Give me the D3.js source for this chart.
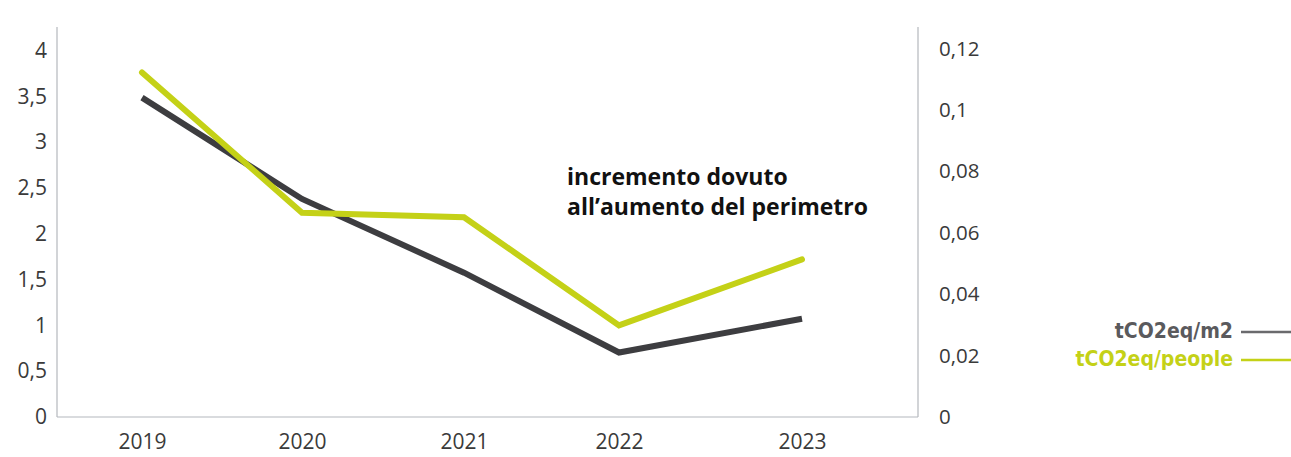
<!DOCTYPE html>
<html>
<head>
<meta charset="utf-8">
<script src="https://cdn.jsdelivr.net/npm/d3@7"></script>
<style>
  html, body { margin: 0; padding: 0; background: #fff; }
  svg { display: block; }
  .tick text { font-family: "Open Sans", sans-serif; }
</style>
</head>
<body>
<svg id="chart" width="1291" height="457"></svg>
<script>
// ---- data ----
const years = [2019, 2020, 2021, 2022, 2023];
const perM2 = [0.104, 0.071, 0.047, 0.021, 0.032];      // right axis, dark line
const perPeople = [3.76, 2.23, 2.18, 1.00, 1.72];       // left axis, green line
const leftTicks = [0, 0.5, 1, 1.5, 2, 2.5, 3, 3.5, 4];
const rightTicks = [0, 0.02, 0.04, 0.06, 0.08, 0.1, 0.12];
const seriesNames = ["tCO2eq/m2", "tCO2eq/people"];
const annotation = ["incremento dovuto", "all\u2019aumento del perimetro"];

// ---- layout ----
const W = 1291, H = 457;
const plotLeft = 57, plotRight = 918, plotTop = 27, plotBottom = 417;
const xStops = [142, 302, 464, 619, 802];
const darkColor = "#3d3d40", greenColor = "#c4d117", axisColor = "#b4b8bd", textColor = "#3a3a3a";

const svg = d3.select("#chart");
const it = d3.formatLocale({decimal: ",", thousands: ".", grouping: [3], currency: ["", "\u20ac"]});
const fmt = it.format("~g");

const x = d3.scaleLinear().domain(years).range(xStops);
const yL = d3.scaleLinear().domain([0, 4]).range([plotBottom, 50.5]);
const yR = d3.scaleLinear().domain([0, 0.12]).range([plotBottom, 48.5]);

// axis frame lines
svg.append("line").attr("x1", plotLeft).attr("x2", plotLeft).attr("y1", plotTop).attr("y2", plotBottom)
  .attr("stroke", axisColor).attr("stroke-width", 1.2);
svg.append("line").attr("x1", plotRight).attr("x2", plotRight).attr("y1", plotTop).attr("y2", plotBottom)
  .attr("stroke", axisColor).attr("stroke-width", 1.2);
svg.append("line").attr("x1", plotLeft).attr("x2", plotRight).attr("y1", plotBottom).attr("y2", plotBottom)
  .attr("stroke", axisColor).attr("stroke-width", 1.2);

// left axis
const gL = svg.append("g").attr("transform", `translate(${plotLeft},0)`)
  .call(d3.axisLeft(yL).tickValues(leftTicks).tickFormat(fmt).tickSize(0).tickPadding(10));
gL.select(".domain").remove();
gL.selectAll("text").attr("font-size", 21).attr("fill", textColor);

// right axis
const gR = svg.append("g").attr("transform", `translate(${plotRight},0)`)
  .call(d3.axisRight(yR).tickValues(rightTicks).tickFormat(fmt).tickSize(0).tickPadding(21));
gR.select(".domain").remove();
gR.selectAll("text").attr("font-size", 20.5).attr("fill", textColor);

// bottom axis
const gB = svg.append("g").attr("transform", `translate(0,${plotBottom})`)
  .call(d3.axisBottom(x).tickValues(years).tickFormat(d3.format("d")).tickSize(0).tickPadding(17));
gB.select(".domain").remove();
gB.selectAll("text").attr("font-size", 21).attr("fill", textColor);

// lines
const lineL = d3.line().x((d, i) => x(years[i])).y(d => yL(d));
const lineR = d3.line().x((d, i) => x(years[i])).y(d => yR(d));

svg.append("path").datum(perM2).attr("d", lineR)
  .attr("fill", "none").attr("stroke", darkColor).attr("stroke-width", 6).attr("stroke-linejoin", "miter");
svg.append("path").datum(perPeople).attr("d", lineL)
  .attr("fill", "none").attr("stroke", greenColor).attr("stroke-width", 6)
  .attr("stroke-linejoin", "miter").attr("stroke-linecap", "round");

// annotation
const ann = svg.append("text").attr("x", 567).attr("y", 185)
  .attr("font-family", "'Open Sans', sans-serif").attr("font-weight", 700)
  .attr("font-size", 23).attr("fill", "#111");
annotation.forEach((t, i) => ann.append("tspan").attr("x", 567).attr("dy", i === 0 ? 0 : 30).text(t));

// legend
const legColors = [ "#5a5a5d", greenColor ];
const legLineColors = [ "#6a6a6d", greenColor ];
seriesNames.forEach((name, i) => {
  const yy = 338 + i * 28;
  svg.append("text").attr("x", 1233).attr("y", yy).attr("text-anchor", "end")
    .attr("font-family", "'Liberation Sans Narrow', 'DejaVu Sans Condensed', sans-serif")
    .attr("font-stretch", "condensed").attr("font-weight", 700).attr("font-size", 21)
    .attr("fill", legColors[i]).text(name);
  svg.append("line").attr("x1", 1241).attr("x2", 1291).attr("y1", yy - 6).attr("y2", yy - 6)
    .attr("stroke", legLineColors[i]).attr("stroke-width", 2.5);
});
</script>
</body>
</html>
